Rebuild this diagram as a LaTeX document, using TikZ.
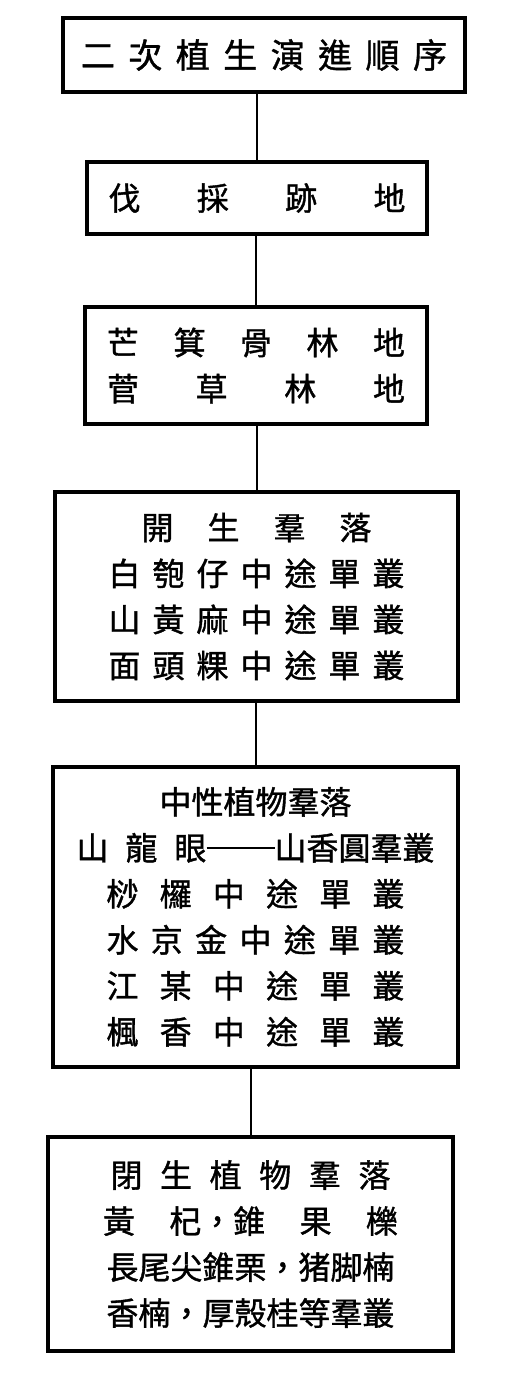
\documentclass[tikz,border=0pt]{standalone}
\usepackage{fontspec}
\newfontfamily\cjk[FakeBold=1.2]{Noto Sans CJK TC}
\usetikzlibrary{positioning}
\tikzset{
  etapa/.style={rectangle, draw=black, line width=2pt, fill=white, inner sep=0pt, text centered, align=center},
  enlace/.style={line width=1pt}
}
\newcommand{\linea}[2]{\makebox[#1][s]{#2}}

\begin{document}
\begin{tikzpicture}[
            x=1pt, y=1pt,
            node distance=33pt,
            every node/.style={font=\cjk\fontsize{16pt}{23pt}\selectfont}
        ]
            \useasboundingbox (0,0) rectangle (258.5,-688.5);

            % --- Nodos ---
            \node (orden) [etapa, minimum width=201pt, minimum height=37pt, font=\cjk\fontsize{17pt}{23pt}\selectfont] at (132,-27.5) {\linea{183pt}{二 次 植 生 演 進 順 序}};

            \node (fatan) [etapa, below=33pt of orden, xshift=-3.5pt, minimum width=170pt, minimum height=36pt] {\linea{148.5pt}{伐 採 跡 地}};

            \node (caodi) [etapa, below=34.5pt of fatan, xshift=-0.5pt, minimum width=171pt, minimum height=58.5pt] {\linea{149pt}{芒 箕 骨 林 地}\\ \linea{149pt}{菅 草 林 地}};

            \node (kaisheng) [etapa, below=32pt of caodi, xshift=0.25pt, minimum width=201.5pt, minimum height=104.5pt] {\linea{115pt}{開 生 羣 落}\\ \linea{148pt}{白 匏 仔 中 途 單 叢}\\ \linea{148pt}{山 黃 麻 中 途 單 叢}\\ \linea{148pt}{面 頭 粿 中 途 單 叢}};

            \node (zhongxing) [etapa, below=31pt of kaisheng, xshift=-0.5pt, minimum width=202.5pt, minimum height=150pt] {中性植物羣落\\ \linea{65pt}{山 龍 眼}\rule[5.5pt]{34pt}{1pt}山香圓羣叢\\ \linea{149pt}{桫 欏 中 途 單 叢}\\ \linea{149pt}{水 京 金 中 途 單 叢}\\ \linea{149pt}{江 某 中 途 單 叢}\\ \linea{149pt}{楓 香 中 途 單 叢}};

            \node (bisheng) [etapa, below=33pt of zhongxing, xshift=-2.5pt, minimum width=202.5pt, minimum height=107pt] {\linea{140pt}{閉 生 植 物 羣 落}\\ \linea{147.5pt}{黃 杞，錐 果 櫟}\\ 長尾尖錐栗，猪脚楠\\ 香楠，厚殼桂等羣叢};

            % --- Conexiones ---
            \draw [enlace] (fatan.north) -- (fatan.north |- orden.south);
            \draw [enlace] (caodi.north) -- (caodi.north |- fatan.south);
            \draw [enlace] (kaisheng.north) -- (kaisheng.north |- caodi.south);
            \draw [enlace] (zhongxing.north) -- (zhongxing.north |- kaisheng.south);
            \draw [enlace] (bisheng.north) -- (bisheng.north |- zhongxing.south);

        \end{tikzpicture}
\end{document}
